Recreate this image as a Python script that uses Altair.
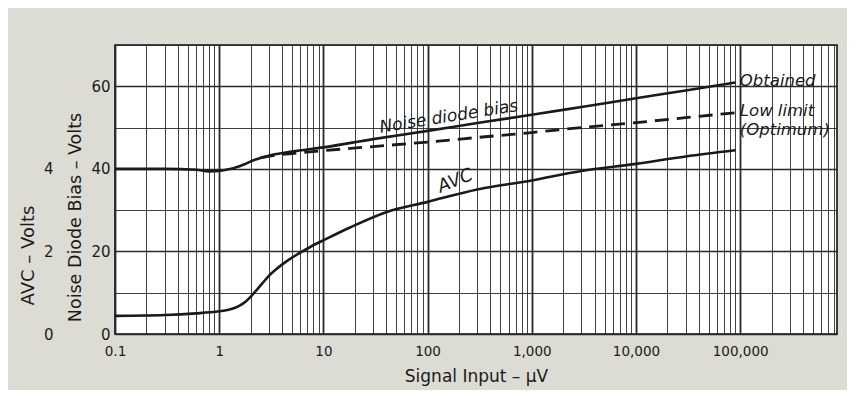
import altair as alt
import pandas as pd

# ---- data ----
signal_avc = [0.1, 0.3, 0.6, 1.0, 1.2, 1.4, 1.6, 1.8, 2.0, 2.3, 2.6, 3.0, 3.5, 4.0, 5.0, 6.0,
              8.0, 10, 18, 40, 100, 300, 1000, 3000, 10000, 30000, 90000]
avc_volts = [0.44, 0.46, 0.5, 0.55, 0.58, 0.63, 0.7, 0.79, 0.9, 1.07, 1.23, 1.41, 1.56, 1.68,
             1.85, 1.97, 2.15, 2.27, 2.58, 2.95, 3.2, 3.5, 3.72, 3.95, 4.12, 4.3, 4.45]

signal_bias = [0.1, 0.3, 0.6, 0.8, 1.0, 1.3, 1.7, 2.2, 3.0, 5.0, 10, 30, 100, 300, 1000, 3000,
               10000, 30000, 90000]
bias_obtained = [40.0, 40.0, 39.8, 39.4, 39.5, 40.0, 41.0, 42.2, 43.2, 44.2, 45.2, 47.2, 49.2,
                 51.1, 53.1, 55.0, 57.1, 59.0, 60.9]

signal_limit = [2.5, 3.0, 5.0, 10, 30, 100, 300, 1000, 3000, 10000, 30000, 90000]
bias_limit = [42.7, 43.1, 43.7, 44.4, 45.4, 46.5, 47.6, 48.8, 50.0, 51.2, 52.4, 53.6]

decades = [0.1, 1, 10, 100, 1000, 10000, 100000]
x_domain = [0.1, 850000]
bias_ticks = [0, 10, 20, 30, 40, 50, 60, 70]
avc_ticks = [0, 2, 4]

curve_notes = pd.DataFrame({"s": [95000, 95000, 95000], "v": [61.3, 53.9, 49.4],
                            "t": ["Obtained", "Low limit", "(Optimum)"]})
bias_note = pd.DataFrame({"s": [160], "v": [52.6], "t": ["Noise diode bias"]})
avc_note = pd.DataFrame({"s": [185], "v": [3.7], "t": ["AVC"]})

# ---- derived tick positions ----
x_vals = []
for d in decades:
    for m in range(1, 10):
        v = round(d * m, 6)
        if v <= x_domain[1]:
            x_vals.append(v)

FONT = "DejaVu Sans"
INK = "#1a1a1a"
is_decade = "abs(log(datum.value)/LN10 - round(log(datum.value)/LN10)) < 1e-6"

xscale = alt.Scale(type="log", domain=x_domain, nice=False)

x_axis = alt.Axis(
    values=x_vals,
    labelExpr=f"{is_decade} ? format(datum.value, ',') : ''",
    labelOverlap=False, labelFlush=False,
    ticks=False, domain=False,
    grid=True, gridColor="#2a2a2a",
    gridWidth={"condition": {"test": is_decade, "value": 1.8}, "value": 0.9},
    title="Signal Input \u2013 \u03bcV",
    labelFont=FONT, labelFontSize=13.5, labelColor=INK, labelPadding=10,
    titleFont=FONT, titleFontSize=17, titleFontWeight="normal", titleColor=INK,
    titlePadding=11,
)

y_bias_axis = alt.Axis(
    values=bias_ticks,
    labelExpr="datum.value % 20 == 0 && datum.value < 70 ? datum.value : ''",
    ticks=False, domain=False, grid=True, gridColor="#2a2a2a",
    gridWidth={"condition": {"test": "datum.value % 20 == 0", "value": 1.7}, "value": 0.9},
    title="Noise Diode Bias \u2013 Volts",
    labelFont=FONT, labelFontSize=15, labelColor=INK, labelPadding=5,
    titleFont=FONT, titleFontSize=17.5, titleFontWeight="normal", titleColor=INK,
    titlePadding=6, titleY=172,
)

y_avc_axis = alt.Axis(
    values=avc_ticks, orient="left", offset=57,
    ticks=False, domain=False, grid=False,
    title="AVC \u2013 Volts",
    labelFont=FONT, labelFontSize=15, labelColor=INK, labelPadding=5,
    titleFont=FONT, titleFontSize=18, titleFontWeight="normal", titleColor=INK,
    titlePadding=6, titleY=210,
)

ybias = alt.Scale(domain=[0, 70], nice=False)
yavc = alt.Scale(domain=[0, 7], nice=False)

df_obt = pd.DataFrame({"s": signal_bias, "v": bias_obtained})
df_lim = pd.DataFrame({"s": signal_limit, "v": bias_limit})
df_avc = pd.DataFrame({"s": signal_avc, "v": avc_volts})

obtained = alt.Chart(df_obt).mark_line(color=INK, strokeWidth=2.6, interpolate="monotone").encode(
    x=alt.X("s:Q", scale=xscale, axis=x_axis),
    y=alt.Y("v:Q", scale=ybias, axis=y_bias_axis),
)
limit = alt.Chart(df_lim).mark_line(color=INK, strokeWidth=2.8, strokeDash=[14, 8],
                                    interpolate="monotone").encode(
    x=alt.X("s:Q", scale=xscale),
    y=alt.Y("v:Q", scale=ybias),
)
end_text = alt.Chart(curve_notes).mark_text(
    font=FONT, fontStyle="italic", fontSize=16.5, color=INK, baseline="middle", align="left", dx=2,
).encode(
    x=alt.X("s:Q", scale=xscale),
    y=alt.Y("v:Q", scale=ybias),
    text="t:N",
)
bias_text = alt.Chart(bias_note).mark_text(
    font=FONT, fontStyle="italic", fontSize=17, color=INK, baseline="middle", align="center",
    angle=351,
).encode(
    x=alt.X("s:Q", scale=xscale),
    y=alt.Y("v:Q", scale=ybias),
    text="t:N",
)

avc_line = alt.Chart(df_avc).mark_line(color=INK, strokeWidth=2.6, interpolate="monotone").encode(
    x=alt.X("s:Q", scale=xscale),
    y=alt.Y("v:Q", scale=yavc, axis=y_avc_axis),
)
avc_text = alt.Chart(avc_note).mark_text(
    font=FONT, fontStyle="italic", fontSize=18, color=INK, angle=338, baseline="middle",
    align="center",
).encode(
    x=alt.X("s:Q", scale=xscale),
    y=alt.Y("v:Q", scale=yavc),
    text="t:N",
)

bias_layer = alt.layer(obtained, limit, end_text, bias_text)
avc_layer = alt.layer(avc_line, avc_text)

chart = alt.layer(bias_layer, avc_layer).resolve_scale(y="independent").properties(
    width=722, height=289,
    autosize=alt.AutoSizeParams(type="none"),
    padding={"left": 107, "top": 37, "right": 10, "bottom": 56},
    background="#dcdcd5",
).configure_view(fill="white", stroke="#111111", strokeWidth=1.6)

chart.save("out.html", embed_options={"renderer": "svg", "actions": False})
